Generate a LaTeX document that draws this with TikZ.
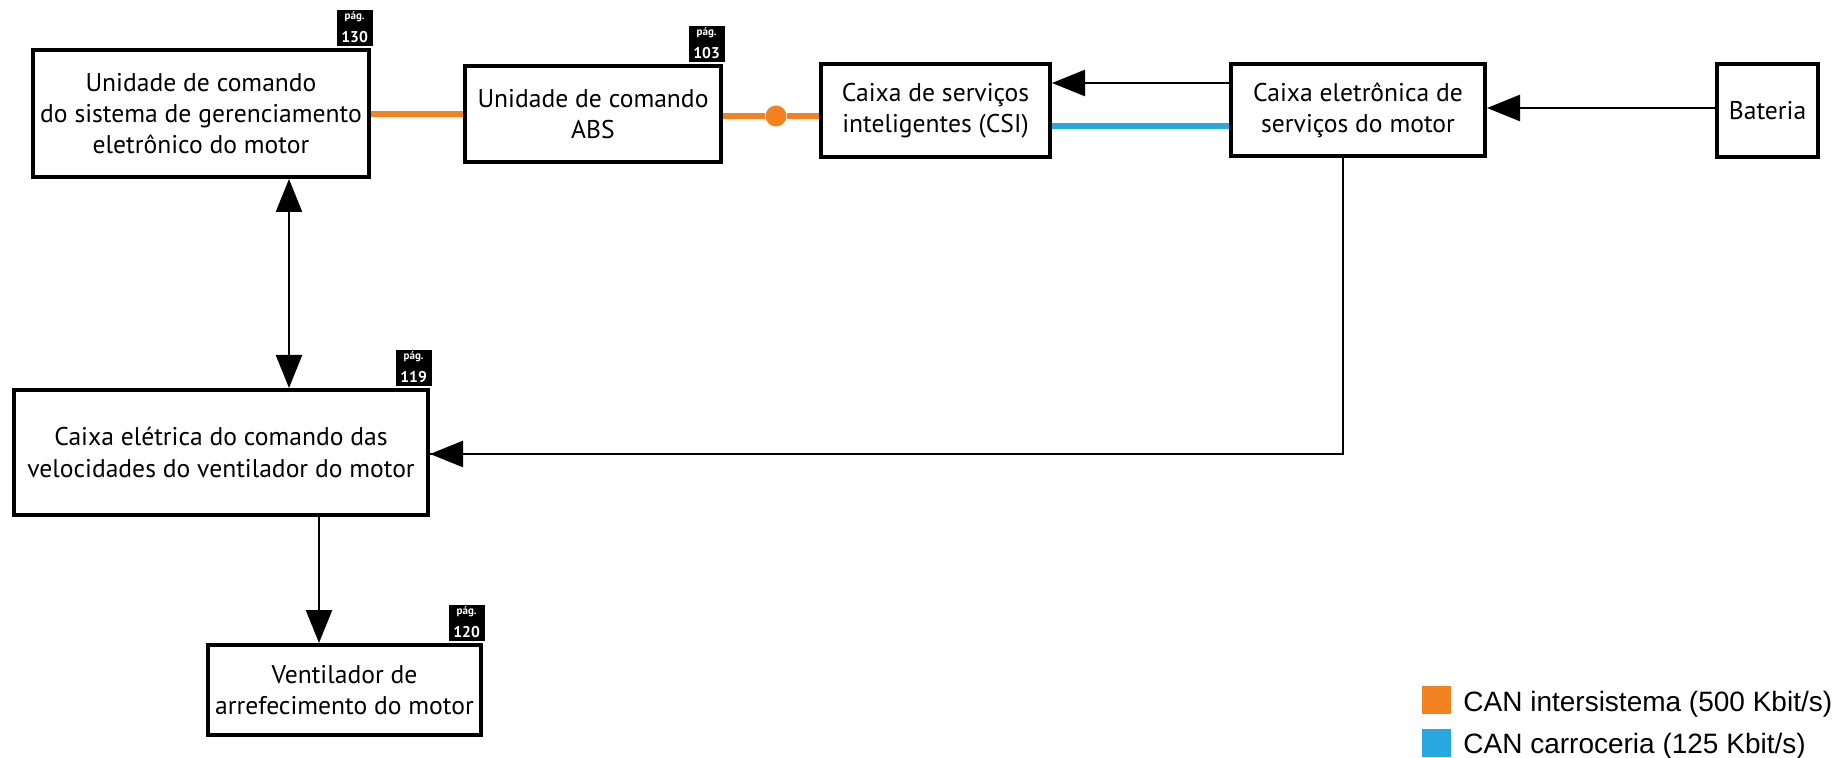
\documentclass[tikz,border=0pt]{standalone}
\usepackage{fontspec}
\setmainfont{PT Sans}
\newfontfamily\legendfont{Liberation Sans}
\usetikzlibrary{arrows.meta}
\definecolor{canorange}{RGB}{245,130,32}
\definecolor{canblue}{RGB}{41,168,224}
\newcommand\pagetag[1]{{\fontsize{5.5}{5.5}\selectfont pág.}\\[-0.5pt]{\fontsize{7.8}{8}\selectfont #1}}

\begin{document}
\begin{tikzpicture}[x=0.5pt,y=-0.5pt,
  box/.style={draw, line width=2pt, align=center, inner sep=0pt,
    font=\fontsize{12.8}{15.6}\selectfont},
  tagbox/.style={fill=black, text=white, minimum size=18pt, inner sep=0pt,
    anchor=south east, align=center, font=\bfseries},
  link/.style={line width=1.25pt, -{Triangle[length=16.5pt,width=13pt]}},
  wire/.style={line width=1pt},
  canA/.style={line width=3pt, canorange},
  canB/.style={line width=3pt, canblue},
  junction/.style={circle, fill=canorange, minimum size=10.5pt, inner sep=0pt},
  swatch/.style={minimum width=14.5pt, minimum height=14pt, inner sep=0pt},
  legendtext/.style={anchor=base west, inner sep=0pt,
    font=\legendfont\fontsize{14}{16}\selectfont}
]
\useasboundingbox (0,0) rectangle (1834,758);

% control units and boxes
\node[box, minimum width=168pt, minimum height=63.5pt] (ecu) at (201,113.5)
  {Unidade de comando\\do sistema de gerenciamento\\eletrônico do motor};
\node[box, minimum width=128pt, minimum height=48pt] (abs) at (593,114)
  {Unidade de comando\\ABS};
\node[box, minimum width=114.5pt, minimum height=46.5pt] (csi) at (935.5,110.5)
  {Caixa de serviços\\inteligentes (CSI)};
\node[box, minimum width=127pt, minimum height=46pt] (cesm) at (1358,110)
  {Caixa eletrônica de\\serviços do motor};
\node[box, minimum width=50.5pt, minimum height=46.5pt] (bat) at (1767.5,110.5)
  {Bateria};
\node[box, minimum width=207pt, minimum height=62.5pt] (fanbox) at (221,452.5)
  {Caixa elétrica do comando das\\velocidades do ventilador do motor};
\node[box, minimum width=136.5pt, minimum height=45pt] (fan) at (344.5,690)
  {Ventilador de\\arrefecimento do motor};

% page references
\node[tagbox] (tecu) at ([shift={(1pt,1pt)}]ecu.north east) {\pagetag{130}};
\node[tagbox] (tabs) at ([shift={(1pt,1pt)}]abs.north east) {\pagetag{103}};
\node[tagbox] (tfanbox) at ([shift={(1pt,1pt)}]fanbox.north east) {\pagetag{119}};
\node[tagbox] (tfan) at ([shift={(1pt,1pt)}]fan.north east) {\pagetag{120}};

% CAN buses
\draw[canA] (ecu.east |- abs.west) -- (abs.west);
\node[junction] (jct) at (776,116) {};
\draw[canA] (abs.east |- jct) -- (jct) -- (csi.west |- jct);
\draw[canB] (cesm.west |- 0,126) -- (csi.east |- 0,126);

% supply and control links
\draw[link] (cesm.west |- 0,83) -- (csi.east |- 0,83);
\draw[link] (bat.west |- 0,108) -- (cesm.east |- 0,108);
\draw[link, {Triangle[length=16.5pt,width=13pt]}-{Triangle[length=16.5pt,width=13pt]}]
  (ecu.south -| 289,0) -- (fanbox.north -| 289,0);
\draw[wire] (cesm.south -| 1343,0) -- (1343,454) -- (fanbox.east |- 0,454);
\draw[link] (1344,454) -- (fanbox.east |- 0,454);
\draw[link] (fanbox.south -| 319,0) -- (fan.north -| 319,0);

% legend
\node[swatch, fill=canorange] (swA) at (1436.5,700) {};
\node[swatch, fill=canblue] (swB) at (1436.5,742.5) {};
\node[legendtext] (lgA) at (1463,711.5) {CAN intersistema (500 Kbit/s)};
\node[legendtext] (lgB) at (1463,753) {CAN carroceria (125 Kbit/s)};
\end{tikzpicture}
\end{document}
